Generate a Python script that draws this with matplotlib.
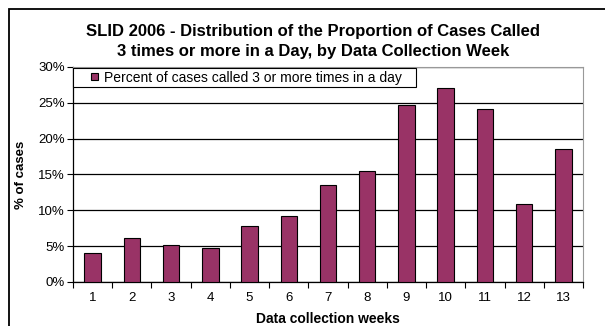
import matplotlib.pyplot as plt
from matplotlib.patches import Rectangle
from matplotlib.legend_handler import HandlerPatch
from matplotlib.ticker import PercentFormatter

weeks = list(range(1, 14))
pct_called_3plus = [4.05, 6.2, 5.1, 4.75, 7.8, 9.2, 13.6, 15.5, 24.7, 27.1, 24.1, 10.85, 18.5]
y_ticks = [0, 5, 10, 15, 20, 25, 30]

plt.rcParams['font.family'] = ['Liberation Sans', 'DejaVu Sans']


def small_square(legend, orig_handle, xdescent, ydescent, width, height, fontsize):
    # little square key at the right end of the handle area
    s = 0.5 * fontsize
    return Rectangle((-xdescent + width - s, -ydescent + (height - s) / 2), s, s)


def style_from_bar(handle, orig):
    handle.update_from(orig.patches[0])


fig = plt.figure(figsize=(6.05, 3.26), dpi=100)
ax = fig.add_axes([0.1207, 0.135, 0.8429, 0.6595])

# outer chart frame (runs off the right and bottom edges)
fig.patches.append(Rectangle((8.5 / 605, -0.1), 1.2, 1 - 9 / 326 + 0.1,
                             transform=fig.transFigure, fill=False,
                             edgecolor='black', linewidth=1.3))

bars = ax.bar(weeks, pct_called_3plus, width=0.42, color='#993366', edgecolor='black',
              linewidth=0.8, zorder=3, label='Percent of cases called 3 or more times in a day')

ax.set_xlim(0.5, 13.5)
ax.set_ylim(0, 30)
ax.set_yticks(y_ticks)
ax.yaxis.set_major_formatter(PercentFormatter(decimals=0))
ax.grid(axis='y', color='black', linewidth=0.9, zorder=0)

ax.set_xticks(weeks)
ax.set_xticks([w + 0.5 for w in range(0, 14)], minor=True)
ax.tick_params(axis='x', which='major', length=0, pad=7, labelsize=9.5)
ax.tick_params(axis='x', which='minor', length=4, width=0.8, direction='out')
ax.tick_params(axis='y', length=4, width=0.8, labelsize=9.5, pad=2)

for side in ['top', 'right']:
    ax.spines[side].set_color('#999999')
for side in ['left', 'bottom']:
    ax.spines[side].set_color('black')
    ax.spines[side].set_linewidth(0.9)

ax.set_xlabel('Data collection weeks', fontsize=10, fontweight='bold', labelpad=6)
ax.set_ylabel('% of cases', fontsize=9.5, fontweight='bold', labelpad=8)

fig.text(0.517, 1 - 41.5 / 326, 'SLID 2006 - Distribution of the Proportion of Cases Called\n'
         '3 times or more in a Day, by Data Collection Week',
         ha='center', va='center', fontsize=12, fontweight='bold', linespacing=1.45)

leg = ax.legend(loc='upper left', bbox_to_anchor=(0, 0.986, 0.6725, 0.01),
                mode='expand', borderaxespad=0, fancybox=False, fontsize=10,
                handlelength=1.6, handleheight=0.7, handletextpad=0.4,
                borderpad=0.2, framealpha=1,
                handler_map={bars: HandlerPatch(patch_func=small_square,
                                                update_func=style_from_bar)})
leg.get_frame().set_edgecolor('black')
leg.get_frame().set_linewidth(0.8)

fig.savefig('out.png', dpi=100)
